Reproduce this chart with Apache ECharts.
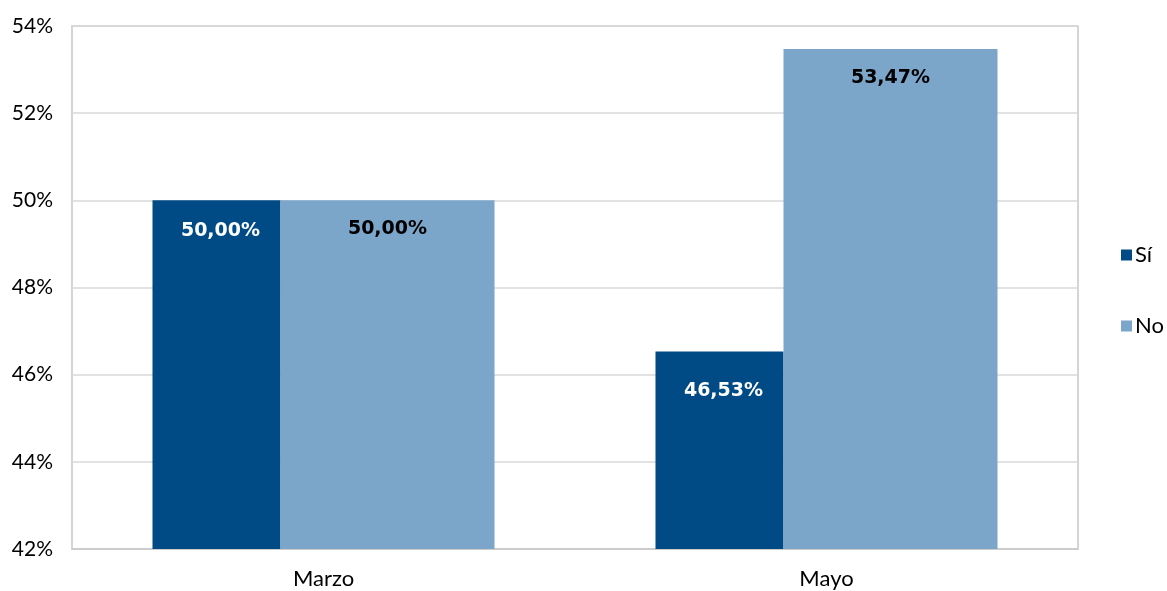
<!DOCTYPE html>
<html>
<head>
<meta charset="utf-8">
<script src="https://cdn.jsdelivr.net/npm/echarts@6/dist/echarts.min.js"></script>
<style>html,body{margin:0;padding:0;background:#fff}#c{width:1167px;height:591px}</style>
</head>
<body>
<div id="c"></div>
<script>
const categories = ['Marzo', 'Mayo'];
const seriesNames = ['Sí', 'No'];
const siValues = [50.00, 46.53];
const noValues = [50.00, 53.47];
const yTicks = [42, 44, 46, 48, 50, 52, 54];

const chart = echarts.init(document.getElementById('c'));
const fmt = p => p.value.toFixed(2).replace('.', ',') + '%';
const FONT = 'Lato';
chart.setOption({
  animation: false,
  grid: { left: 72, right: 89, top: 26, bottom: 42, show: true, borderColor: '#c8c8c8', borderWidth: 1.5 },
  legend: {
    orient: 'vertical', left: 1116, top: 239, itemGap: 49, itemWidth: 11, itemHeight: 11,
    icon: 'rect',
    textStyle: { fontFamily: FONT, fontSize: 22, color: '#000', padding: [0, 0, 0, -2] },
    data: seriesNames
  },
  xAxis: {
    type: 'category', data: categories,
    axisLine: { lineStyle: { color: '#c8c8c8', width: 1.5 } },
    axisTick: { show: false },
    axisLabel: { fontFamily: FONT, fontSize: 22, color: '#000', margin: 19 }
  },
  yAxis: {
    type: 'value', min: yTicks[0], max: yTicks[yTicks.length - 1], interval: 2,
    axisLine: { show: false }, axisTick: { show: false },
    splitLine: { lineStyle: { color: '#d9d9d9', width: 1.5 } },
    axisLabel: { fontFamily: FONT, fontSize: 21, color: '#000', margin: 19, formatter: '{value}%' }
  },
  series: [
    {
      name: seriesNames[0], type: 'bar', data: [
        siValues[0],
        { value: siValues[1], label: { distance: 30 } }
      ],
      barWidth: 128, barGap: '0%',
      itemStyle: { color: '#004a86' },
      label: { show: true, position: 'insideTop', distance: 21, offset: [4, 0], formatter: fmt,
        fontFamily: 'DejaVu Sans', fontWeight: 'bold', fontSize: 19, color: '#fff' }
    },
    {
      name: seriesNames[1], type: 'bar', data: noValues,
      barWidth: 214, barGap: '0%',
      itemStyle: { color: '#7ba6ca' },
      label: { show: true, position: 'insideTop', distance: 19, formatter: fmt,
        fontFamily: 'DejaVu Sans', fontWeight: 'bold', fontSize: 19, color: '#000' }
    }
  ]
});
</script>
</body>
</html>
